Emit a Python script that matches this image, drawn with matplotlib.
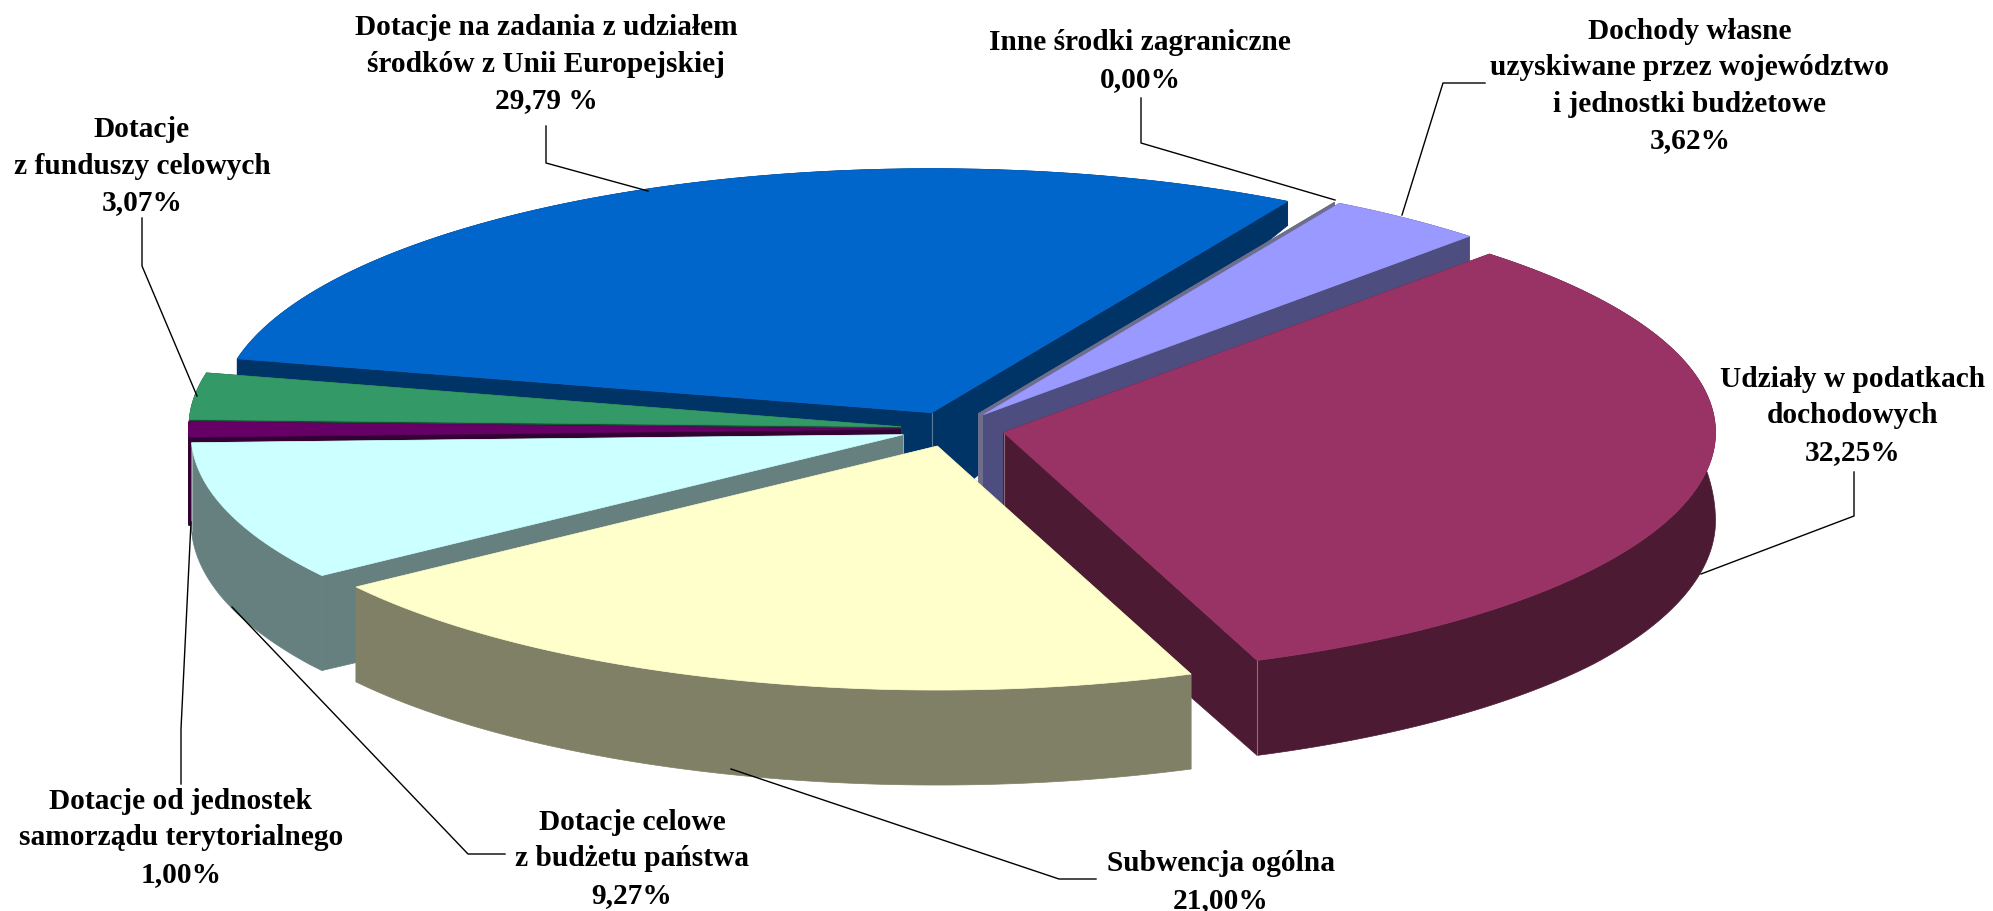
import numpy as np
import matplotlib
matplotlib.use('Agg')
import matplotlib.pyplot as plt

# udzialy w dochodach (%), kolejnosc jak w wykresie, zgodnie z ruchem wskazowek
shares = [3.62, 32.25, 21.00, 9.27, 1.00, 3.07, 29.79, 0.00]
labels = [
    'Dochody własne\nuzyskiwane przez województwo\ni jednostki budżetowe\n3,62%',
    'Udziały w podatkach\ndochodowych\n32,25%',
    'Subwencja ogólna\n21,00%',
    'Dotacje celowe\nz budżetu państwa\n9,27%',
    'Dotacje od jednostek\nsamorządu terytorialnego\n1,00%',
    'Dotacje\nz funduszy celowych\n3,07%',
    'Dotacje na zadania z udziałem\nśrodków z Unii Europejskiej\n29,79 %',
    'Inne środki zagraniczne\n0,00%',
]
top_colors = ['#9999FF', '#993366', '#FFFFCC', '#CCFFFF', '#660066', '#339966', '#0066CC', '#808090']
side_colors = ['#4D4D80', '#4D1A33', '#808066', '#668080', '#330033', '#1A4D33', '#003366', '#6E6E8A']

# pozycje etykiet (srodek tekstu) i linie odniesienia w pikselach obrazka
label_pos = [(1690, 86), (1853, 416), (1221, 882), (632, 859), (181, 838), (142, 166), (546, 64), (1140, 61)]
leaders = [
    [(1485, 84), (1443, 84), (1402, 216)],
    [(1854, 473), (1854, 517), (1701, 575)],
    [(1096, 880), (1059, 880), (731, 770)],
    [(505, 855), (468, 855), (232, 608)],
    [(181, 785), (181, 730), (191, 523)],
    [(142, 219), (142, 267), (197, 397)],
    [(546, 127), (546, 164), (648, 192)],
    [(1141, 99), (1141, 144), (1335, 201)],
]

# geometria "kola" w perspektywie
cx, cy = 952.5, 430
a, b = 712, 244
explode = 0.073
start_angle = 30.0
depth_y = [130, 236, 430, 570, 700]
depth_val = [20, 26, 88, 95, 95]
tip_depth = 100
draw_order = [6, 7, 0, 1, 5, 4, 3, 2]
seam_slices = [1, 3, 6]


def depth(y):
    return np.interp(y, depth_y, depth_val)


fig = plt.figure(figsize=(19.93, 9.12), dpi=100)
ax = fig.add_axes([0, 0, 1, 1])
ax.set_xlim(0, 1993)
ax.set_ylim(912, 0)
ax.axis('off')

# katy poczatku i konca kazdego wycinka (od gory, zgodnie z zegarem)
ends = start_angle + np.cumsum(shares) * 3.6
starts = ends - np.array(shares) * 3.6

for i in draw_order:
    t0, t1 = np.radians(starts[i]), np.radians(ends[i])
    mid = (t0 + t1) / 2
    tx = cx + np.sin(mid) * a * explode
    ty = cy - np.cos(mid) * b * explode
    t = np.linspace(t0, t1, 120)
    rx = tx + np.sin(t) * a
    ry = ty - np.cos(t) * b
    col = side_colors[i]

    # sciany boczne, potem luk, na koncu wierzch
    for ex, ey in [(rx[0], ry[0]), (rx[-1], ry[-1])]:
        ax.fill([tx, ex, ex, tx], [ty, ey, ey + depth(ey), ty + tip_depth],
                color=col, lw=0.5, zorder=1)
    ax.fill(np.r_[rx, rx[::-1]], np.r_[ry, (ry + depth(ry))[::-1]], color=col, lw=0.5, zorder=1)
    if i in seam_slices:
        ax.plot([rx[-1], rx[-1]], [ry[-1], ry[-1] + depth(ry[-1])], color='white', alpha=0.35, lw=0.8, zorder=1)
        ax.plot([tx, tx], [ty, ty + tip_depth], color='white', alpha=0.35, lw=0.8, zorder=1)
    if shares[i] > 0:
        ax.fill(np.r_[tx, rx], np.r_[ty, ry], color=top_colors[i], lw=0.5, zorder=1)

for line in leaders:
    xs, ys = zip(*line)
    ax.plot(xs, ys, color='black', lw=1.0, zorder=2)

for text, (x, y) in zip(labels, label_pos):
    ax.text(x, y, text, ha='center', va='center', family='Liberation Serif',
            fontweight='bold', fontsize=21.2, linespacing=1.45, color='black', zorder=3)

fig.savefig('out.png', dpi=100)
